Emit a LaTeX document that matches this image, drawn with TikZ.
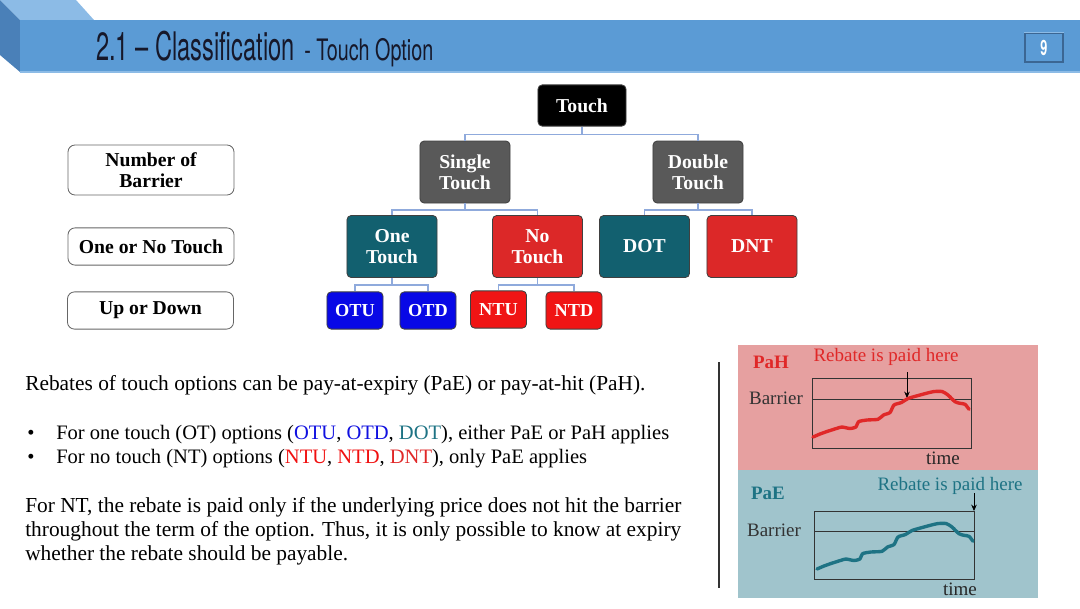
\documentclass[tikz,border=0pt]{standalone}
\usepackage{fontspec}
\setmainfont{Liberation Serif}
\newfontfamily\titlefont[FakeStretch=0.6]{TeX Gyre Heros}
\newfontfamily\subtitlefont[FakeStretch=0.67]{TeX Gyre Heros}
\usetikzlibrary{arrows.meta, positioning}
\definecolor{barblue}{HTML}{5B9BD5}
\definecolor{bartop}{HTML}{8CBBE6}
\definecolor{barside}{HTML}{4A80B8}
\definecolor{titleink}{HTML}{16182A}
\definecolor{tgray}{HTML}{595959}
\definecolor{tteal}{HTML}{12606F}
\definecolor{tred}{HTML}{DC2828}
\definecolor{sblue}{HTML}{0808E6}
\definecolor{sred}{HTML}{F01414}
\definecolor{connblue}{HTML}{8FAADC}
\definecolor{pahfill}{HTML}{E6A0A0}
\definecolor{paefill}{HTML}{A0C4CC}
\definecolor{pahred}{HTML}{E02828}
\definecolor{paeteal}{HTML}{1E7384}
\definecolor{otblue}{HTML}{1010E0}
\definecolor{ntred}{HTML}{F01010}
\newcommand{\bodyfont}{\fontsize{15.2pt}{17pt}\selectfont}
\newcommand{\bulletfont}{\fontsize{14.6pt}{17pt}\selectfont}
\newcommand{\boxfont}{\bfseries\fontsize{14pt}{15pt}\selectfont}
\newcommand{\smallboxfont}{\bfseries\fontsize{13pt}{14pt}\selectfont}
\newcommand{\panelfont}{\fontsize{13.5pt}{15pt}\selectfont}

\begin{document}
\begin{tikzpicture}[x=0.025cm, y=-0.025cm, >={Stealth[length=1.6mm, width=1.4mm]},
  tbox/.style={draw=black!75, line width=0.6pt, rounded corners=3pt, text=white,
    font=\boxfont, align=center, inner sep=0pt},
  bigbox/.style={tbox, minimum width=2.25cm, minimum height=1.55cm},
  smallbox/.style={tbox, font=\smallboxfont, minimum width=1.4cm, minimum height=0.93cm},
  lbox/.style={draw=black!60, line width=0.6pt, rounded corners=5pt, fill=white,
    font=\boxfont, align=center, minimum width=4.15cm, inner sep=0pt},
  conn/.style={connblue, line width=0.8pt},
  chart/.style={black!80, line width=0.6pt},
  price/.style={line width=2.4pt, line cap=round, line join=round}]

\useasboundingbox (0,0) rectangle (1080,608);

% Header bar
\fill[bartop] (0,0) -- (76,0) -- (94,20) -- (20,20) -- cycle;
\fill[barside] (0,0) -- (20,20) -- (20,72) -- (0,55) -- cycle;
\fill[barblue] (20,20) rectangle (1080,72);
\draw[bartop, line width=1pt] (20,72) -- (1080,72);
\node[anchor=base west, text=titleink, inner sep=0pt] (title) at (96,60)
  {{\titlefont\fontsize{28pt}{30pt}\selectfont 2.1 \textendash\ Classification}\hspace{0.7em}{\subtitlefont\fontsize{21pt}{22pt}\selectfont - Touch Option}};

% Page number
\node[fill=barblue, draw=barside!80!black, line width=1pt, minimum width=0.95cm, minimum height=0.72cm,
  text=white, font=\titlefont\bfseries\fontsize{15pt}{16pt}\selectfont] (page) at (1044,47.5) {9};
\draw[bartop, line width=1pt] (page.north west) -- (page.north east);

% --- Tree ---
\node[tbox, fill=black, minimum width=2.2cm, minimum height=1.03cm] (touch) at (582,105.5) {Touch};
\node[bigbox, fill=tgray] (single) at (465,172) {Single\\Touch};
\node[bigbox, fill=tgray] (double) at (698,172) {Double\\Touch};
\node[bigbox, fill=tteal] (one) at (392,246.5) {One\\Touch};
\node[bigbox, fill=tred] (no) at (537.5,246.5) {No\\Touch};
\node[bigbox, fill=tteal] (dot) at (644.5,246.5) {DOT};
\node[bigbox, fill=tred] (dnt) at (752,246.5) {DNT};
\node[smallbox, fill=sblue] (otu) at (355,310.5) {OTU};
\node[smallbox, fill=sblue] (otd) at (428,310.5) {OTD};
\node[smallbox, fill=sred] (ntu) at (498.5,309.5) {NTU};
\node[smallbox, fill=sred] (ntd) at (574,310.5) {NTD};

\draw[conn] (touch.south) -- ++(0,8) -| (single.north);
\draw[conn] (touch.south) -- ++(0,8) -| (double.north);
\draw[conn] (single.south) -- ++(0,6.5) -| (one.north);
\draw[conn] (single.south) -- ++(0,6.5) -| (no.north);
\draw[conn] (double.south) -- ++(0,6.5) -| (dot.north);
\draw[conn] (double.south) -- ++(0,6.5) -| (dnt.north);
\draw[conn] (one.south) -- ++(0,7) -| (otu.north);
\draw[conn] (one.south) -- ++(0,7) -| (otd.north);
\draw[conn] (no.south) -- ++(0,7) -| (ntu.north);
\draw[conn] (no.south) -- ++(0,7) -| (ntd.north);

% Levels
\node[lbox, minimum height=1.25cm] (barriers) at (151,170) {Number of\\Barrier};
\node[lbox, minimum height=0.93cm] (onenone) at (151,246.5) {One or No Touch};
\node[lbox, minimum height=0.93cm] (updown) at (150.5,310.5) {Up or Down};

% --- Text ---
\node[anchor=base west, font=\bodyfont, inner sep=0pt] (intro) at (25,390)
  {Rebates of touch options can be pay-at-expiry (PaE) or pay-at-hit (PaH).};
\node[anchor=base west, font=\bulletfont, inner sep=0pt] (dot1) at (27,439) {•};
\node[anchor=base west, font=\bulletfont, inner sep=0pt] (bullet1) at (56,439)
  {For one touch (OT) options (\textcolor{otblue}{OTU}, \textcolor{otblue}{OTD}, \textcolor{paeteal}{DOT}), either PaE or PaH applies};
\node[anchor=base west, font=\bulletfont, inner sep=0pt] (dot2) at (27,463) {•};
\node[anchor=base west, font=\bulletfont, inner sep=0pt] (bullet2) at (56,463)
  {For no touch (NT) options (\textcolor{ntred}{NTU}, \textcolor{ntred}{NTD}, \textcolor{pahred}{DNT}), only PaE applies};
\node[anchor=base west, font=\bodyfont, inner sep=0pt, align=left] (para) at (25,560)
  {For NT, the rebate is paid only if the underlying price does not hit the barrier\\
   throughout the term of the option. Thus, it is only possible to know at expiry\\
   whether the rebate should be payable.};

\draw[black!80, line width=0.8pt] (719,362) -- (719,588);

% --- PaH / PaE panel ---
\fill[pahfill] (738,345) rectangle (1038,470);
\fill[paefill] (738,470) rectangle (1038,598);

\draw[chart] (812,378) rectangle (971,448);
\draw[chart] (812,399) -- (971,399);
\node[text=pahred, font=\panelfont\bfseries] (pah) at (771,362) {PaH};
\node[text=pahred, font=\panelfont] (note1) at (886,357) {Rebate is paid here};
\node[text=black!80, font=\panelfont] (bar1) at (776,398) {Barrier};
\node[text=black!85, font=\panelfont] (time1) at (943,458) {time};
\coordinate (hit1top) at (907,372);
\coordinate (hit1) at (907,398);
\draw[->, black, line width=0.6pt] (hit1top) -- (hit1);

\draw[chart] (814,511) rectangle (974,579);
\draw[chart] (814,531) -- (974,531);
\node[text=paeteal, font=\panelfont\bfseries] (pae) at (768,493) {PaE};
\node[text=paeteal, font=\panelfont] (note2) at (950,486) {Rebate is paid here};
\node[text=black!80, font=\panelfont] (bar2) at (774,530) {Barrier};
\node[text=black!85, font=\panelfont] (time2) at (960,589) {time};
\coordinate (hit2top) at (974,493);
\coordinate (hit2) at (974,511);
\draw[->, black, line width=0.6pt] (hit2top) -- (hit2);

% price paths, second one shifted into the PaE chart
\foreach \dx/\dy/\col in {0/0/pahred, 4/132/paeteal} {
  \draw[price, \col, shift={(\dx,\dy)}] plot[smooth, tension=0.4] coordinates {
    (813,437) (820,434) (827,431.5) (837,428.3) (842,427) (850,428.5) (856,427)
    (858.5,421.7) (867,420) (878,419.3) (883.5,415) (890,412.5) (894,405)
    (901.5,402.5) (908,398.5) (920,395) (933,391.7) (942,391.5) (948,395)
    (955,401.7) (960,403.3) (965,404.3) (969,409.3)};
}

\end{tikzpicture}
\end{document}
